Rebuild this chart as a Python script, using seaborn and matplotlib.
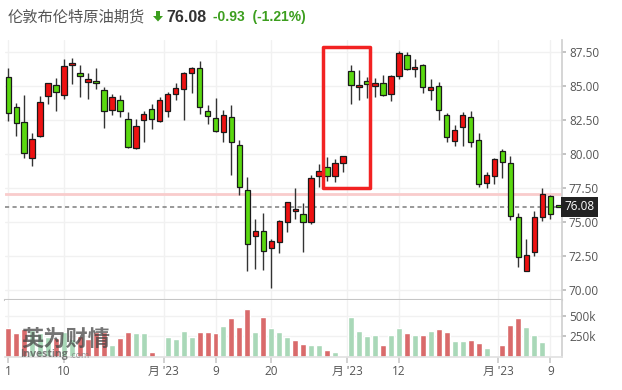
import matplotlib.pyplot as plt
import matplotlib.transforms as mtransforms
from matplotlib.patches import Rectangle, Polygon
import seaborn as sns
import pandas as pd
import numpy as np

# daily OHLC (Brent futures)
opens = [85.61, 83.41, 82.31, 79.66, 81.33, 84.22, 85.03, 84.29, 86.50, 85.91,
         85.30, 85.35, 84.66, 83.24, 83.92, 82.53, 80.39, 82.45, 83.26, 82.38,
         83.11, 84.41, 84.73, 85.91, 86.28, 83.11, 82.60, 81.57, 82.67, 80.61,
         77.31, 73.92, 74.29, 73.04, 73.48, 74.95, 75.76, 75.57, 75.00, 78.34,
         79.02, 78.34, 79.29, 86.06, 84.88, 85.32, 84.95, 85.17, 84.36, 85.69,
         87.23, 86.20, 86.50, 84.66, 84.95, 82.82, 80.91, 81.94, 82.67, 80.98,
         77.82, 78.34, 80.17, 79.29, 75.32, 71.35, 72.75, 75.32, 76.86, 76.20]
highs = [86.28, 83.75, 84.32, 81.50, 84.24, 85.22, 85.54, 86.94, 87.01, 86.50,
         85.91, 86.28, 84.93, 84.36, 84.29, 83.04, 82.53, 83.14, 83.63, 84.19,
         84.56, 85.17, 86.03, 86.40, 86.79, 83.61, 84.07, 83.19, 83.56, 80.98,
         78.29, 75.17, 75.61, 73.70, 75.12, 76.47, 77.45, 76.35, 78.46, 79.22,
         79.73, 79.59, 79.86, 86.52, 86.13, 85.61, 85.54, 85.76, 85.76, 87.53,
         87.45, 86.94, 86.57, 85.47, 85.25, 82.97, 82.09, 83.04, 83.11, 81.50,
         78.63, 79.66, 80.32, 79.81, 75.61, 73.70, 75.76, 77.45, 76.94, 76.20]
lows = [82.43, 81.33, 79.71, 79.12, 81.25, 83.63, 83.11, 84.00, 85.15, 84.19,
        84.00, 84.73, 81.86, 82.82, 82.67, 80.39, 80.32, 80.84, 81.79, 82.33,
        82.67, 83.92, 82.45, 84.44, 82.89, 82.16, 81.57, 80.84, 78.41, 76.94,
        71.35, 71.55, 71.42, 70.10, 72.67, 74.27, 75.17, 72.75, 74.86, 77.58,
        78.02, 77.94, 78.63, 83.63, 83.92, 84.07, 84.14, 84.22, 83.85, 85.47,
        86.13, 85.61, 84.44, 83.92, 82.45, 80.84, 80.54, 80.54, 80.47, 77.53,
        77.45, 77.75, 78.19, 75.10, 71.69, 71.35, 72.45, 75.03, 75.17, 76.08]
closes = [82.97, 82.23, 80.03, 81.06, 83.78, 85.17, 84.56, 86.42, 86.67, 85.69,
          85.49, 85.17, 83.11, 84.14, 83.11, 80.52, 82.01, 82.89, 82.53, 83.92,
          84.36, 84.81, 85.91, 86.28, 83.41, 82.75, 81.64, 82.82, 80.84, 77.53,
          73.34, 74.29, 72.82, 73.56, 75.03, 76.42, 75.91, 75.00, 78.19, 78.70,
          78.34, 79.29, 79.81, 85.03, 85.03, 85.10, 85.17, 84.29, 85.69, 87.38,
          86.20, 86.35, 84.88, 84.90, 83.19, 81.20, 81.72, 82.82, 80.84, 77.75,
          78.41, 79.59, 79.36, 75.39, 72.38, 72.53, 75.32, 77.01, 75.54, 76.08]
# volume in thousands
volumes = [355, 290, 343, 330, 290, 238, 226, 306, 218, 258,
           218, 306, 306, 145, 230, 306, 290, 290, 60, 16,
           242, 218, 314, 242, 306, 306, 290, 375, 472, 363,
           580, 306, 484, 351, 306, 242, 210, 161, 145, 145,
           89, 60, 16, 484, 314, 254, 266, 145, 266, 351,
           290, 266, 266, 314, 339, 302, 193, 193, 210, 169,
           109, 16, 145, 387, 472, 363, 266, 181, 0, 0]

tick_pos = [0, 7, 19.5, 26, 33, 42.5, 49, 61.5, 68]
tick_labels = ["1", "10", "月 '23", "9", "20", "月 '23", "12", "月 '23", "9"]

last_price = 76.08
prev_close = 77.01
change = "-0.93"
change_pct = "(-1.21%)"
title = "伦敦布伦特原油期货"

# box around the gap (index / price units)
box_x0, box_x1 = 39.45, 45.4
box_y0, box_y1 = 77.46, 87.82

RED = "#ee1111"
GREEN = "#5ad80f"
VOL_UP = "#a9d8b8"
VOL_DOWN = "#d96a6b"
GRID = "#f1f1f1"

sns.set_theme(style="white")
plt.rcParams['font.family'] = ['Open Sans', 'Noto Sans CJK SC', 'DejaVu Sans']

o = np.array(opens); h = np.array(highs); l = np.array(lows); c = np.array(closes)
x = np.arange(len(o))
prev = np.concatenate([[o[0]], c[:-1]])
df = pd.DataFrame({"idx": x, "vol": volumes,
                   "vdir": np.where(c >= prev, "up", "down")})

W, H = 622, 390
fig = plt.figure(figsize=(W / 100, H / 100), dpi=100)


def frac(x0, y0, x1, y1):
    return [x0 / W, 1 - y1 / H, (x1 - x0) / W, (y1 - y0) / H]


ax = fig.add_axes(frac(5, 40, 562, 300))
axv = fig.add_axes(frac(5, 300, 562, 357))

xlim = (-0.41, 69.47)

# price panel
for yv in np.arange(70, 88.1, 2.5):
    ax.axhline(yv, color=GRID, lw=1, zorder=0)
for xv in tick_pos:
    ax.axvline(xv, color=GRID, lw=1, zorder=0)
    axv.axvline(xv, color=GRID, lw=1, zorder=0)

ax.axhline(prev_close, color="#f9cccc", lw=2, zorder=1)
ax.axhline(last_price, color="#888888", lw=1.2, ls=(0, (2.5, 2)), zorder=1)

ax.vlines(x, l, h, color="#333333", lw=1, zorder=2)
ax.bar(x, np.abs(c - o), bottom=np.minimum(o, c), width=0.68,
       color=np.where(c >= o, RED, GREEN), edgecolor="#1a1a1a",
       linewidth=0.9, zorder=3)

ax.add_patch(Rectangle((box_x0, box_y0), box_x1 - box_x0, box_y1 - box_y0,
                       fill=False, ec="#f22222", lw=2.5, joinstyle="round",
                       zorder=5, clip_on=False))

ax.set_xlim(*xlim)
ax.set_ylim(69.24, 88.36)
ax.set_yticks(np.arange(70, 88.1, 2.5))
ax.set_yticklabels([f"{v:.2f}" for v in np.arange(70, 88.1, 2.5)])
ax.yaxis.tick_right()
ax.set_xticks([])
ax.tick_params(axis="y", length=3, color="#bbbbbb", labelsize=8.5,
               labelcolor="#555555", pad=2, right=True)
for s in ["top", "left"]:
    ax.spines[s].set_visible(False)
ax.spines["right"].set_color("#d0d0d0")
ax.spines["bottom"].set_color("#c6c6c6")
ax.spines["bottom"].set_linewidth(1.5)

trans = mtransforms.blended_transform_factory(ax.transAxes, ax.transData)
ax.text(1.004, last_price, f"{last_price:.2f}", transform=trans,
        color="white", fontsize=8.5, va="center", ha="left",
        bbox=dict(boxstyle="square,pad=0.28", fc="#222222", ec="none"),
        zorder=6, clip_on=False)

# volume panel
for yv in [250, 500]:
    axv.axhline(yv, color=GRID, lw=1, zorder=0)
sns.barplot(data=df, x="idx", y="vol", hue="vdir",
            palette={"up": VOL_UP, "down": VOL_DOWN}, dodge=False,
            width=0.75, saturation=1, legend=False, ax=axv, zorder=2)
axv.set_xlim(*xlim)
axv.set_ylim(0, 688)
axv.set_xlabel("")
axv.set_ylabel("")
axv.yaxis.tick_right()
axv.set_yticks([250, 500])
axv.set_yticklabels(["250k", "500k"])
axv.set_xticks(tick_pos)
axv.set_xticklabels(tick_labels)
axv.tick_params(axis="y", length=3, color="#bbbbbb", labelsize=8.5,
                labelcolor="#555555", pad=2, right=True)
axv.tick_params(axis="x", length=4, color="#cccccc", labelsize=8.5,
                labelcolor="#555555", pad=2, bottom=True)
for s in ["top", "left"]:
    axv.spines[s].set_visible(False)
axv.spines["right"].set_color("#d0d0d0")
axv.spines["bottom"].set_color("#e2e2e2")

# watermark
fig.text(21 / W, 1 - 339 / H, "英为财情", fontsize=16, fontweight="bold",
         color="#454545", alpha=0.75, va="center", ha="left",
         family=["Noto Sans CJK SC", "DejaVu Sans"])
fig.text(20 / W, 1 - 355 / H, "Investing", fontsize=7.5, fontweight="bold",
         color="#555555", alpha=0.75, va="center", ha="left")
fig.text(69 / W, 1 - 356 / H, ".com", fontsize=6.5, color="#777777",
         alpha=0.7, va="center", ha="left")

# header
fig.text(8 / W, 1 - 17 / H, title, fontsize=11, color="#555555",
         va="center", ha="left", family=["Noto Sans CJK SC", "DejaVu Sans"])
arrow = [(156, 11), (160, 11), (160, 16), (163, 16), (158, 21.5),
         (153, 16), (156, 16)]
fig.patches.append(Polygon([(px / W, 1 - py / H) for px, py in arrow],
                           closed=True, fc="#3c9e1e", ec="none",
                           transform=fig.transFigure))
fig.text(166 / W, 1 - 17 / H, f"{last_price:.2f}", fontsize=11.5,
         fontweight="bold", color="#333333", va="center", ha="left",
         family=["Liberation Sans"])
fig.text(213 / W, 1 - 17 / H, f"{change}  {change_pct}", fontsize=10,
         fontweight="bold", color="#3c9e1e", va="center", ha="left",
         family=["Liberation Sans"])

fig.savefig("out.png", dpi=100)
